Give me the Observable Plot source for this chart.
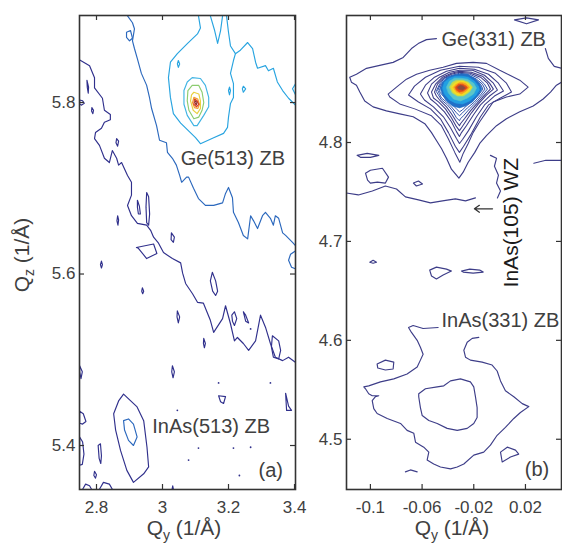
<!DOCTYPE html>
<html><head><meta charset="utf-8">
<script src="https://cdn.jsdelivr.net/npm/d3@7"></script>
<script src="https://cdn.jsdelivr.net/npm/@observablehq/plot@0.6"></script>
<style>
body{margin:0;background:#fff;}
#fig{position:relative;width:562px;height:545px;overflow:hidden;}
.panel{position:absolute;top:0;}
.panel svg{overflow:visible;}
</style></head><body><div id="fig"></div><script>
// ---------- ticks ----------
const aTicksX = [2.8, 3, 3.2, 3.4];
const aTicksY = [5.4, 5.6, 5.8];
const bTicksX = [-0.1, -0.06, -0.02, 0.02];
const bTicksY = [4.5, 4.6, 4.7, 4.8];

// ---------- panel (a) contours (Qy, Qz) ----------
const aNavyBand = [[2.748,5.850],[2.779,5.843],[2.794,5.829],[2.794,5.817],[2.818,5.805],[2.824,5.791],[2.842,5.786],[2.842,5.780],[2.824,5.777],[2.815,5.770],[2.797,5.765],[2.794,5.758],[2.809,5.750],[2.824,5.735],[2.839,5.730],[2.848,5.744],[2.861,5.735],[2.867,5.727],[2.876,5.730],[2.894,5.715],[2.906,5.707],[2.906,5.692],[2.894,5.680],[2.906,5.668],[2.924,5.659],[2.952,5.657],[2.964,5.651],[2.973,5.643],[2.988,5.636],[3.003,5.625],[3.030,5.618],[3.055,5.613],[3.061,5.601],[3.070,5.589],[3.091,5.577],[3.106,5.567],[3.124,5.566],[3.145,5.546],[3.155,5.532],[3.182,5.548],[3.191,5.563],[3.206,5.542],[3.218,5.522],[3.227,5.526],[3.245,5.519],[3.261,5.511],[3.282,5.522],[3.297,5.552],[3.312,5.538],[3.327,5.519],[3.342,5.503],[3.364,5.499],[3.382,5.503],[3.403,5.497]];
const aNavyOpen = [
  [[2.758,5.349],[2.767,5.355],[2.779,5.353],[2.785,5.349]],
  [[2.809,5.349],[2.821,5.357],[2.839,5.355],[2.848,5.349]],
  [[3.029,5.349],[3.031,5.353],[3.033,5.349]]
];
const aNavyLoops = [
  [[2.771,5.826],[2.776,5.818],[2.775,5.811],[2.772,5.818]],
  [[2.749,5.803],[2.758,5.802],[2.763,5.799],[2.755,5.797],[2.749,5.798]],
  [[2.786,5.794],[2.791,5.791],[2.789,5.787],[2.785,5.790]],
  [[2.861,5.758],[2.867,5.755],[2.864,5.749],[2.859,5.753]],
  [[2.924,5.686],[2.930,5.679],[2.933,5.670],[2.927,5.670],[2.924,5.678]],
  [[2.952,5.695],[2.958,5.690],[2.961,5.670],[2.958,5.657],[2.952,5.660],[2.950,5.678]],
  [[2.864,5.668],[2.867,5.663],[2.865,5.657],[2.862,5.662]],
  [[3.027,5.648],[3.036,5.643],[3.033,5.637],[3.026,5.640]],
  [[2.921,5.631],[2.973,5.635],[2.983,5.624],[2.952,5.618],[2.927,5.630]],
  [[2.815,5.615],[2.818,5.611],[2.815,5.607],[2.812,5.611]],
  [[2.939,5.584],[2.943,5.580],[2.940,5.577],[2.937,5.580]],
  [[3.045,5.557],[3.052,5.550],[3.048,5.543],[3.044,5.550]],
  [[2.749,5.493],[2.757,5.486],[2.753,5.478],[2.749,5.486]],
  [[3.030,5.493],[3.036,5.486],[3.032,5.479],[3.028,5.486]],
  [[2.882,5.460],[2.923,5.445],[2.943,5.429],[2.953,5.398],[2.958,5.375],[2.943,5.367],[2.912,5.357],[2.892,5.371],[2.873,5.394],[2.858,5.418],[2.852,5.437],[2.867,5.452]],
  [[2.749,5.440],[2.760,5.437],[2.768,5.428],[2.758,5.425],[2.749,5.426]],
  [[2.749,5.410],[2.758,5.404],[2.762,5.390],[2.757,5.378],[2.749,5.377]],
  [[2.805,5.400],[2.812,5.402],[2.815,5.388],[2.813,5.379],[2.808,5.385]],
  [[2.794,5.370],[2.800,5.366],[2.797,5.362],[2.792,5.365]],
  [[3.151,5.602],[3.161,5.592],[3.167,5.580],[3.161,5.575],[3.152,5.580],[3.145,5.592]],
  [[3.210,5.552],[3.218,5.556],[3.225,5.548],[3.218,5.540],[3.212,5.545]],
  [[3.245,5.556],[3.252,5.552],[3.261,5.543],[3.252,5.545]],
  [[3.125,5.525],[3.130,5.519],[3.127,5.514],[3.124,5.519]],
  [[3.333,5.528],[3.352,5.522],[3.358,5.511],[3.352,5.501],[3.336,5.503],[3.330,5.515]],
  [[3.170,5.458],[3.191,5.457],[3.185,5.449],[3.176,5.451]],
  [[3.373,5.461],[3.382,5.446],[3.391,5.441],[3.376,5.441]]
];
const aNavyDots = [[3.045,5.441],[3.170,5.473],[3.327,5.473],[3.109,5.397],[3.215,5.397],[3.267,5.398],[3.079,5.383],[3.233,5.365],[3.267,5.536]];
const aBlueBand = [[2.894,5.901],[2.909,5.893],[2.915,5.886],[2.909,5.872],[2.915,5.863],[2.924,5.851],[2.936,5.834],[2.952,5.820],[2.961,5.805],[2.967,5.793],[2.982,5.773],[2.991,5.756],[3.012,5.753],[3.015,5.742],[3.030,5.735],[3.042,5.727],[3.052,5.715],[3.058,5.707],[3.073,5.713],[3.079,5.713],[3.094,5.700],[3.109,5.688],[3.130,5.680],[3.155,5.680],[3.182,5.683],[3.191,5.694],[3.200,5.701],[3.212,5.689],[3.215,5.672],[3.230,5.660],[3.245,5.645],[3.258,5.641],[3.267,5.668],[3.276,5.662],[3.288,5.653],[3.303,5.668],[3.312,5.672],[3.327,5.665],[3.336,5.657],[3.342,5.668],[3.352,5.665],[3.364,5.648],[3.373,5.645],[3.394,5.637],[3.403,5.633]];
const aBlueOpen = [[[3.403,5.627],[3.388,5.623],[3.382,5.616],[3.391,5.608],[3.403,5.606]]];
const aBlueLoops = [
  [[2.891,5.882],[2.903,5.884],[2.909,5.875],[2.900,5.872],[2.891,5.876]],
  [[2.882,5.429],[2.897,5.431],[2.912,5.425],[2.923,5.410],[2.912,5.400],[2.897,5.406],[2.885,5.418]]
];
const aLightOpen = [
  [[3.109,5.901],[3.115,5.887],[3.106,5.880],[3.076,5.869],[3.045,5.857],[3.024,5.847],[3.018,5.829],[3.024,5.806],[3.033,5.787],[3.055,5.776],[3.100,5.759],[3.115,5.752],[3.155,5.759],[3.185,5.764],[3.197,5.771],[3.200,5.783],[3.206,5.799],[3.215,5.806],[3.215,5.822],[3.206,5.834],[3.215,5.849],[3.221,5.857],[3.236,5.861],[3.258,5.870],[3.273,5.863],[3.282,5.847],[3.288,5.840],[3.312,5.843],[3.321,5.837],[3.336,5.840],[3.348,5.824],[3.364,5.814],[3.382,5.805],[3.403,5.797]],
  [[3.145,5.901],[3.158,5.884],[3.167,5.869],[3.176,5.884],[3.182,5.901]],
  [[3.194,5.901],[3.200,5.882],[3.206,5.866],[3.221,5.857]],
  [[3.403,5.822],[3.394,5.816],[3.403,5.809]]
];
const aLightLoops = [
  [[3.048,5.849],[3.052,5.845],[3.048,5.841],[3.045,5.845]],
  [[3.203,5.818],[3.206,5.814],[3.203,5.809],[3.200,5.814]],
  [[3.245,5.819],[3.252,5.816],[3.245,5.812],[3.242,5.816]]
];
const aPeakRings = [
  [[3.090,5.829],[3.115,5.828],[3.130,5.820],[3.140,5.806],[3.140,5.795],[3.125,5.785],[3.105,5.773],[3.095,5.773],[3.075,5.785],[3.065,5.798],[3.065,5.814],[3.075,5.824]],
  [[3.090,5.820],[3.110,5.820],[3.120,5.812],[3.125,5.800],[3.120,5.791],[3.110,5.783],[3.095,5.781],[3.080,5.791],[3.075,5.802],[3.077,5.814]],
  [[3.095,5.812],[3.110,5.810],[3.115,5.802],[3.115,5.793],[3.105,5.787],[3.093,5.791],[3.085,5.802],[3.088,5.809]],
  [[3.095,5.806],[3.107,5.804],[3.112,5.798],[3.107,5.793],[3.097,5.794],[3.091,5.800]],
  [[3.097,5.804],[3.105,5.802],[3.110,5.798],[3.103,5.795],[3.095,5.798]],
  [[3.100,5.802],[3.105,5.800],[3.102,5.797],[3.098,5.800]]
];

// ---------- panel (b) contours (Qy, Qz) ----------
const bOuterOpen = [
  [[-0.0489,4.905],[-0.0566,4.904],[-0.0630,4.900],[-0.0682,4.895],[-0.0746,4.886],[-0.0824,4.881],[-0.0928,4.878],[-0.1030,4.875],[-0.1108,4.869],[-0.1160,4.866],[-0.1147,4.861],[-0.1108,4.858],[-0.1082,4.851],[-0.1044,4.842],[-0.0979,4.836],[-0.0876,4.832],[-0.0773,4.829],[-0.0669,4.826],[-0.0579,4.819],[-0.0527,4.810],[-0.0489,4.802],[-0.0450,4.794],[-0.0411,4.784],[-0.0373,4.773],[-0.0315,4.764],[-0.0282,4.770],[-0.0243,4.780],[-0.0192,4.790],[-0.0154,4.799],[-0.0102,4.807],[-0.0024,4.817],[0.0053,4.824],[0.0156,4.831],[0.0260,4.837],[0.0337,4.844],[0.0394,4.851],[0.0440,4.858],[0.0479,4.861]],
  [[0.0354,4.895],[0.0377,4.885],[0.0423,4.877],[0.0479,4.875]],
  [[-0.0729,4.467],[-0.0690,4.469],[-0.0638,4.467]],
  [[-0.1186,4.749],[-0.1093,4.747],[-0.0985,4.751],[-0.0884,4.756],[-0.0798,4.753],[-0.0729,4.745],[-0.0628,4.742],[-0.0535,4.739],[-0.0442,4.741],[-0.0342,4.743],[-0.0264,4.741],[-0.0187,4.744]],
  [[-0.0071,4.787],[-0.0024,4.784],[-0.0040,4.776],[-0.0009,4.767],[-0.0024,4.759],[0.0007,4.751],[-0.0017,4.744]],
  [[0.0265,4.779],[0.0358,4.782],[0.0479,4.782]]
];
const bRings = [
  [[-0.0863,4.849],[-0.0798,4.856],[-0.0721,4.864],[-0.0643,4.869],[-0.0541,4.873],[-0.0437,4.876],[-0.0334,4.880],[-0.0205,4.881],[-0.0102,4.880],[0.0001,4.873],[0.0079,4.868],[0.0156,4.863],[0.0221,4.856],[0.0156,4.849],[0.0053,4.846],[-0.0050,4.841],[-0.0102,4.831],[-0.0154,4.821],[-0.0205,4.810],[-0.0243,4.799],[-0.0282,4.789],[-0.0308,4.780],[-0.0347,4.790],[-0.0398,4.804],[-0.0450,4.817],[-0.0527,4.827],[-0.0657,4.834],[-0.0773,4.839],[-0.0850,4.846]],
  [[-0.0705,4.848],[-0.0659,4.857],[-0.0574,4.866],[-0.0458,4.873],[-0.0311,4.877],[-0.0164,4.876],[-0.0032,4.870],[0.0053,4.860],[0.0092,4.851],[0.0007,4.845],[-0.0086,4.838],[-0.0148,4.826],[-0.0218,4.809],[-0.0280,4.796],[-0.0311,4.790],[-0.0342,4.796],[-0.0396,4.810],[-0.0458,4.824],[-0.0535,4.834],[-0.0628,4.841]],
  [[-0.0613,4.849],[-0.0574,4.858],[-0.0504,4.866],[-0.0411,4.872],[-0.0311,4.875],[-0.0195,4.874],[-0.0086,4.869],[-0.0009,4.860],[0.0030,4.852],[-0.0040,4.847],[-0.0117,4.838],[-0.0179,4.826],[-0.0241,4.812],[-0.0287,4.803],[-0.0311,4.799],[-0.0334,4.804],[-0.0380,4.815],[-0.0435,4.826],[-0.0512,4.836],[-0.0582,4.843]],
  [[-0.0558,4.850],[-0.0527,4.859],[-0.0465,4.866],[-0.0388,4.871],[-0.0311,4.873],[-0.0210,4.873],[-0.0117,4.868],[-0.0048,4.860],[-0.0017,4.853],[-0.0078,4.847],[-0.0148,4.838],[-0.0202,4.828],[-0.0257,4.817],[-0.0295,4.810],[-0.0311,4.806],[-0.0334,4.811],[-0.0373,4.821],[-0.0427,4.831],[-0.0489,4.839],[-0.0535,4.844]],
  [[-0.0527,4.851],[-0.0496,4.859],[-0.0442,4.866],[-0.0373,4.870],[-0.0311,4.872],[-0.0218,4.871],[-0.0133,4.867],[-0.0078,4.860],[-0.0048,4.854],[-0.0102,4.848],[-0.0164,4.839],[-0.0218,4.830],[-0.0264,4.821],[-0.0295,4.815],[-0.0311,4.812],[-0.0334,4.816],[-0.0373,4.825],[-0.0419,4.834],[-0.0473,4.841],[-0.0512,4.845]],
  [[-0.0504,4.851],[-0.0481,4.859],[-0.0435,4.865],[-0.0373,4.869],[-0.0311,4.871],[-0.0226,4.870],[-0.0148,4.866],[-0.0094,4.860],[-0.0071,4.854],[-0.0117,4.848],[-0.0171,4.840],[-0.0226,4.832],[-0.0272,4.824],[-0.0303,4.819],[-0.0311,4.817],[-0.0334,4.821],[-0.0373,4.829],[-0.0411,4.836],[-0.0458,4.842],[-0.0489,4.847]],
  [[-0.0489,4.852],[-0.0465,4.859],[-0.0427,4.865],[-0.0365,4.868],[-0.0311,4.870],[-0.0233,4.869],[-0.0164,4.865],[-0.0117,4.859],[-0.0094,4.854],[-0.0133,4.848],[-0.0179,4.841],[-0.0233,4.834],[-0.0280,4.827],[-0.0303,4.824],[-0.0311,4.822],[-0.0334,4.825],[-0.0365,4.832],[-0.0404,4.838],[-0.0450,4.843],[-0.0473,4.848]],
  [[-0.0477,4.853],[-0.0458,4.859],[-0.0419,4.864],[-0.0365,4.867],[-0.0311,4.869],[-0.0241,4.868],[-0.0179,4.864],[-0.0133,4.859],[-0.0113,4.854],[-0.0148,4.848],[-0.0195,4.841],[-0.0249,4.835],[-0.0287,4.830],[-0.0311,4.827],[-0.0334,4.830],[-0.0373,4.836],[-0.0411,4.841],[-0.0450,4.845],[-0.0465,4.849]],
  [[-0.0465,4.853],[-0.0450,4.859],[-0.0411,4.863],[-0.0365,4.867],[-0.0311,4.868],[-0.0249,4.868],[-0.0187,4.864],[-0.0148,4.859],[-0.0129,4.854],[-0.0164,4.848],[-0.0210,4.842],[-0.0257,4.837],[-0.0287,4.833],[-0.0311,4.831],[-0.0334,4.834],[-0.0373,4.839],[-0.0411,4.843],[-0.0442,4.848],[-0.0458,4.850]]
];
const bCore = [
  [[-0.0458,4.854],[-0.0442,4.861],[-0.0404,4.866],[-0.0357,4.868],[-0.0311,4.869],[-0.0249,4.869],[-0.0195,4.865],[-0.0156,4.860],[-0.0137,4.854],[-0.0164,4.848],[-0.0210,4.841],[-0.0264,4.837],[-0.0311,4.835],[-0.0365,4.837],[-0.0411,4.842],[-0.0442,4.848]],
  [[-0.0442,4.855],[-0.0427,4.861],[-0.0388,4.865],[-0.0342,4.867],[-0.0295,4.867],[-0.0241,4.866],[-0.0195,4.862],[-0.0164,4.857],[-0.0156,4.853],[-0.0187,4.847],[-0.0233,4.842],[-0.0287,4.839],[-0.0342,4.840],[-0.0388,4.843],[-0.0427,4.849]],
  [[-0.0411,4.856],[-0.0388,4.862],[-0.0349,4.865],[-0.0303,4.865],[-0.0249,4.864],[-0.0202,4.860],[-0.0179,4.855],[-0.0202,4.849],[-0.0249,4.845],[-0.0303,4.842],[-0.0357,4.844],[-0.0396,4.850]],
  [[-0.0388,4.856],[-0.0365,4.861],[-0.0334,4.863],[-0.0287,4.863],[-0.0241,4.861],[-0.0210,4.856],[-0.0233,4.851],[-0.0280,4.847],[-0.0326,4.847],[-0.0365,4.850]],
  [[-0.0373,4.856],[-0.0349,4.860],[-0.0318,4.862],[-0.0280,4.862],[-0.0241,4.859],[-0.0218,4.855],[-0.0249,4.851],[-0.0287,4.848],[-0.0326,4.848],[-0.0357,4.851]],
  [[-0.0357,4.856],[-0.0334,4.859],[-0.0303,4.861],[-0.0264,4.860],[-0.0233,4.856],[-0.0257,4.852],[-0.0295,4.849],[-0.0334,4.851]],
  [[-0.0342,4.856],[-0.0318,4.859],[-0.0287,4.859],[-0.0257,4.857],[-0.0249,4.855],[-0.0280,4.852],[-0.0311,4.851],[-0.0334,4.853]],
  [[-0.0326,4.856],[-0.0303,4.858],[-0.0280,4.857],[-0.0264,4.855],[-0.0287,4.853],[-0.0318,4.854]]
];
const bLoops = [
  [[-0.0476,4.613],[-0.0592,4.612],[-0.0669,4.615],[-0.0705,4.613],[-0.0682,4.608],[-0.0638,4.600],[-0.0613,4.593],[-0.0592,4.586],[-0.0613,4.580],[-0.0638,4.573],[-0.0716,4.566],[-0.0819,4.561],[-0.0922,4.558],[-0.1013,4.554],[-0.1051,4.553],[-0.1038,4.551],[-0.1013,4.546],[-0.0986,4.544],[-0.0935,4.544],[-0.0961,4.543],[-0.0986,4.539],[-0.0974,4.531],[-0.0948,4.526],[-0.0870,4.521],[-0.0767,4.516],[-0.0716,4.509],[-0.0664,4.506],[-0.0651,4.497],[-0.0587,4.492],[-0.0548,4.487],[-0.0561,4.479],[-0.0510,4.475],[-0.0458,4.472],[-0.0380,4.470],[-0.0328,4.472],[-0.0277,4.475],[-0.0200,4.484],[-0.0123,4.487],[-0.0071,4.494],[-0.0019,4.504],[0.0045,4.512],[0.0110,4.521],[0.0161,4.527],[0.0226,4.533],[0.0175,4.536],[0.0110,4.543],[0.0045,4.549],[0.0007,4.559],[-0.0019,4.569],[-0.0058,4.575],[-0.0135,4.578],[-0.0226,4.580],[-0.0264,4.583],[-0.0277,4.590],[-0.0251,4.598],[-0.0212,4.602],[-0.0161,4.603]]
];
const bClosed = [
  [[-0.0626,4.546],[-0.0574,4.551],[-0.0483,4.553],[-0.0432,4.554],[-0.0380,4.559],[-0.0303,4.561],[-0.0226,4.558],[-0.0200,4.553],[-0.0187,4.543],[-0.0174,4.532],[-0.0174,4.522],[-0.0200,4.516],[-0.0251,4.511],[-0.0328,4.509],[-0.0406,4.511],[-0.0483,4.516],[-0.0548,4.519],[-0.0599,4.524],[-0.0613,4.532],[-0.0626,4.543]],
  [[-0.0948,4.576],[-0.0884,4.580],[-0.0819,4.578],[-0.0824,4.571],[-0.0884,4.570],[-0.0943,4.572]],
  [[0.0007,4.487],[0.0059,4.492],[0.0123,4.489],[0.0148,4.485],[0.0084,4.482],[0.0020,4.477]],
  [[-0.0541,4.671],[-0.0489,4.674],[-0.0411,4.672],[-0.0373,4.670],[-0.0437,4.666],[-0.0489,4.662],[-0.0527,4.665]],
  [[-0.0295,4.670],[-0.0231,4.672],[-0.0154,4.671],[-0.0127,4.669],[-0.0205,4.668],[-0.0282,4.669]],
  [[-0.1005,4.679],[-0.0979,4.681],[-0.0953,4.679],[-0.0979,4.678]],
  [[-0.1103,4.787],[-0.1025,4.789],[-0.0935,4.787],[-0.1000,4.785],[-0.1077,4.785]],
  [[-0.1038,4.769],[-0.1000,4.772],[-0.0907,4.774],[-0.0860,4.765],[-0.0884,4.759],[-0.0946,4.760],[-0.1000,4.759],[-0.1022,4.762]],
  [[-0.0667,4.759],[-0.0628,4.761],[-0.0597,4.758],[-0.0644,4.756]],
  [[0.0115,4.924],[0.0208,4.926],[0.0301,4.924],[0.0208,4.920]]
];

// ---------- helpers ----------
const rows = (list) => list.flatMap((pts, i) => pts.map(p => ({x: p[0], y: p[1], id: i})));
const lines = (list, stroke, closed, w = 1.15) => Plot.line(rows(list), {x: "x", y: "y", z: "id", stroke, strokeWidth: w, curve: closed ? "linear-closed" : "linear", clip: true});
const fills = (list, colors) => list.map((poly, i) => Plot.line(rows([poly]), {x: "x", y: "y", z: "id", fill: colors[i], stroke: colors[i], strokeWidth: 0.6, curve: "linear-closed", clip: true}));
const FONT = "Liberation Sans, Arial, sans-serif";
const TXT = "#404040";
function frameMarks(tx, ty, fh, fw) {
  return [
    Plot.ruleX(tx, {x: d => d, insetBottom: fh - 5, stroke: "#333", strokeWidth: 1.2}),
    Plot.ruleX(tx, {x: d => d, insetTop: fh - 5, stroke: "#333", strokeWidth: 1.2}),
    Plot.ruleY(ty, {y: d => d, insetRight: fw - 5, stroke: "#333", strokeWidth: 1.2}),
    Plot.ruleY(ty, {y: d => d, insetLeft: fw - 5, stroke: "#333", strokeWidth: 1.2}),
    Plot.frame({stroke: "#333", strokeWidth: 1.6}),
    Plot.axisX({ticks: tx, tickSize: 0, tickPadding: 11, tickFormat: d => String(d), fontSize: 17, fill: TXT, label: null}),
    Plot.axisY({ticks: ty, tickSize: 0, tickPadding: 4, tickFormat: d => String(d), fontSize: 17, fill: TXT, label: null})
  ];
}

const NAVY = "#30308c", BLUE = "#2b68bd", LIGHT = "#28a4e0";
const BNAVY = "#3d3d88";

const plotA = Plot.plot({
  width: 300, height: 545, marginLeft: 79, marginRight: 5, marginTop: 15, marginBottom: 56,
  x: {domain: [2.7485, 3.403], label: null},
  y: {domain: [5.3487, 5.9015], label: null},
  style: {fontFamily: FONT, background: "transparent", overflow: "visible"},
  marks: [
    lines([aNavyBand], NAVY, false),
    lines(aNavyOpen, NAVY, false),
    lines(aNavyLoops, NAVY, true),
    Plot.dot(aNavyDots, {x: d => d[0], y: d => d[1], r: 0.9, fill: NAVY}),
    lines([aBlueBand], BLUE, false),
    lines(aBlueOpen, BLUE, false),
    lines(aBlueLoops, BLUE, true),
    lines(aLightOpen, LIGHT, false),
    lines(aLightLoops, LIGHT, true),
    lines([aPeakRings[0]], "#40b4e4", true),
    lines([aPeakRings[1]], "#8ccc70", true),
    lines([aPeakRings[2]], "#e8d040", true),
    lines([aPeakRings[3]], "#f0a030", true),
    lines([aPeakRings[4]], "#e04020", true),
    lines([aPeakRings[5]], "#902828", true),
    ...frameMarks(aTicksX, aTicksY, 474, 216),
    Plot.text(["Ge(513) ZB"], {x: 3.055, y: 5.735, textAnchor: "start", fontSize: 20, fill: TXT}),
    Plot.text(["InAs(513) ZB"], {x: 2.969, y: 5.422, textAnchor: "start", fontSize: 20, fill: TXT}),
    Plot.text(["(a)"], {x: 3.291, y: 5.371, textAnchor: "start", fontSize: 20, fill: TXT})
  ]
});

const plotB = Plot.plot({
  width: 262, height: 545, marginLeft: 46, marginRight: 1, marginTop: 15, marginBottom: 56,
  x: {domain: [-0.1185, 0.0479], label: null},
  y: {domain: [4.4492, 4.9284], label: null},
  style: {fontFamily: FONT, background: "transparent", overflow: "visible"},
  marks: [
    lines(bOuterOpen, BNAVY, false),
    lines(bRings.slice(0, 6), BNAVY, true, 1.05),
    lines(bRings.slice(6), "#3050a8", true, 1.0),
    ...fills(bCore, ["#2070c8", "#22a0e2", "#5cc6c8", "#c6dc4a", "#f8dc22", "#f8a020", "#e44a1a", "#8a4a40"]),
    lines(bLoops, BNAVY, false),
    lines(bClosed, BNAVY, true),
    ...frameMarks(bTicksX, bTicksY, 474, 215),
    Plot.text(["Ge(331) ZB"], {x: -0.0450, y: 4.904, textAnchor: "start", fontSize: 20, fill: TXT}),
    Plot.text(["InAs(331) ZB"], {x: -0.0450, y: 4.620, textAnchor: "start", fontSize: 20, fill: TXT}),
    Plot.text(["InAs(105) WZ"], {x: 0.0092, y: 4.719, rotate: -90, fontSize: 21, fill: "#1a1a1a"}),
    Plot.arrow([0], {x1: -0.0055, x2: -0.0195, y1: 4.733, y2: 4.733, stroke: "#333", strokeWidth: 1.3, headLength: 7, headAngle: 70}),
    Plot.text(["(b)"], {x: 0.0195, y: 4.469, textAnchor: "start", fontSize: 20, fill: TXT})
  ]
});

// axis titles with subscripts, added as SVG text
function axisTitle(svg, x, y, sub, rot) {
  const t = d3.select(svg).append("text")
    .attr("x", x).attr("y", y).attr("text-anchor", "middle")
    .attr("font-family", FONT).attr("font-size", 21).attr("fill", TXT);
  if (rot) t.attr("transform", `rotate(-90 ${x} ${y})`);
  t.append("tspan").text("Q");
  t.append("tspan").attr("font-size", 14).attr("dy", 5).text(sub);
  t.append("tspan").attr("dy", -5).text(" (1/Å)");
}
axisTitle(plotA, 184, 535, "y", false);
axisTitle(plotA, 29, 255, "z", true);
axisTitle(plotB, 152, 535, "y", false);

const fig = document.getElementById("fig");
const pa = document.createElement("div"); pa.className = "panel"; pa.style.left = "0px"; pa.appendChild(plotA);
const pb = document.createElement("div"); pb.className = "panel"; pb.style.left = "300px"; pb.appendChild(plotB);
fig.appendChild(pa); fig.appendChild(pb);
</script></body></html>
